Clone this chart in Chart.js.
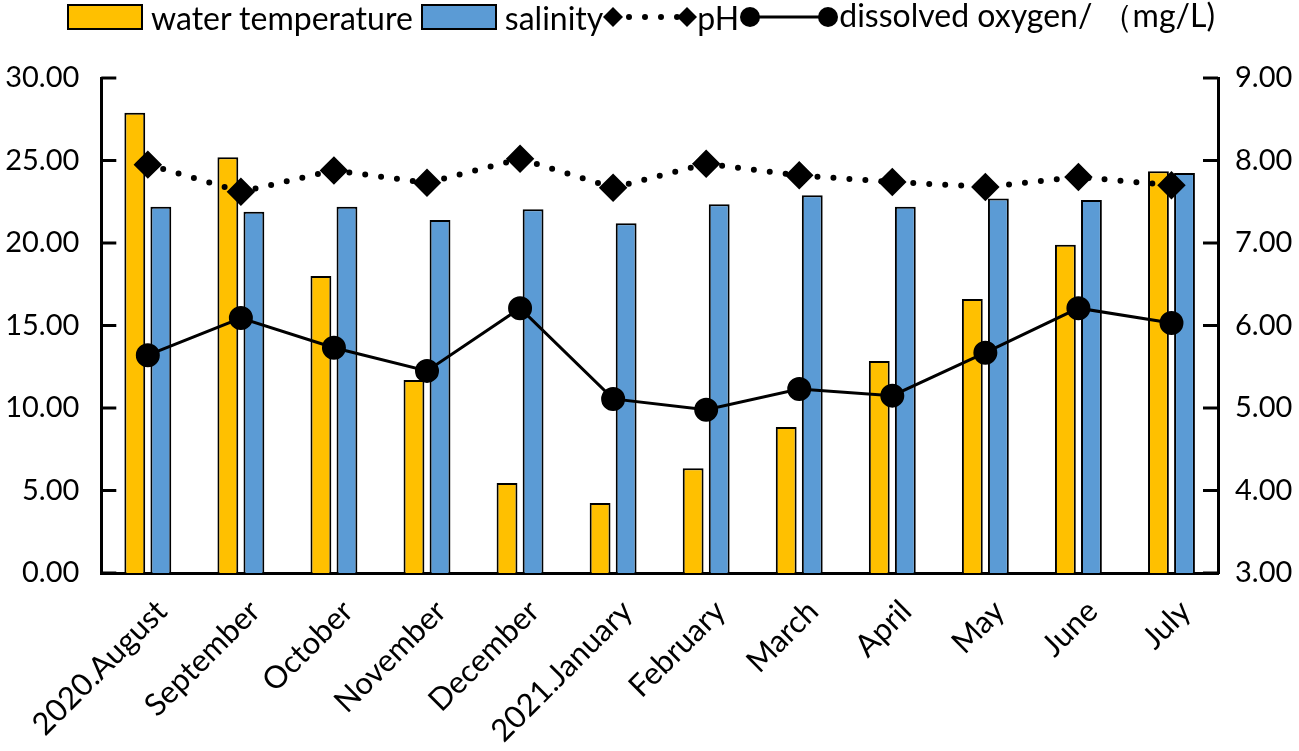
<!DOCTYPE html>
<html>
<head>
<meta charset="utf-8">
<script src="https://cdn.jsdelivr.net/npm/chart.js@4.4.0/dist/chart.umd.min.js"></script>
<style>
  html, body { margin: 0; padding: 0; background: #fff; }
  #wrap { position: relative; width: 1299px; height: 751px; }
  #legend {
    position: absolute; left: 67px; top: 0; height: 34px;
    display: flex; align-items: center;
    font-family: Lato, "Noto Sans", sans-serif; font-size: 32px; color: #000;
    white-space: nowrap;
  }
  #legend .box { display: inline-block; width: 72px; height: 22px; border: 2.5px solid #000; margin-right: 8px; }
  #legend .txt { margin-right: 8px; }
  #legend svg { display: block; }
</style>
</head>
<body>
<div id="wrap">
  <div id="legend">
    <span class="box" style="background:#FFC000"></span><span class="txt">water temperature</span>
    <span class="box" style="background:#5B9BD5"></span><span class="txt" style="margin-right:0">salinity</span>
    <svg width="94" height="30" viewBox="0 0 94 30">
      <line x1="10" y1="15" x2="84" y2="15" stroke="#000" stroke-width="6" stroke-linecap="round" stroke-dasharray="0 16"/>
      <polygon points="10,5 20,15 10,25 0,15" fill="#000"/>
      <polygon points="84,5 94,15 84,25 74,15" fill="#000"/>
    </svg><span class="txt" style="margin-right:0">pH</span>
    <svg width="100" height="30" viewBox="0 0 100 30">
      <line x1="11" y1="15" x2="89" y2="15" stroke="#000" stroke-width="3"/>
      <circle cx="11" cy="15" r="10" fill="#000"/>
      <circle cx="89" cy="15" r="10" fill="#000"/>
    </svg><span class="txt">dissolved oxygen/ （mg/L)</span>
  </div>
  <canvas id="chart" width="1299" height="751"></canvas>
</div>
<script>
// categories and series
const months = ["2020.August", "September", "October", "November", "December", "2021.January",
  "February", "March", "April", "May", "June", "July"];
const waterTemp = [27.9, 25.2, 18.0, 11.7, 5.45, 4.25, 6.35, 8.85, 12.85, 16.6, 19.9, 24.35];
const salinity = [22.2, 21.9, 22.2, 21.4, 22.05, 21.2, 22.35, 22.9, 22.2, 22.7, 22.6, 24.25];
const phValues = [7.95, 7.62, 7.88, 7.73, 8.02, 7.67, 7.96, 7.82, 7.74, 7.68, 7.80, 7.70];
const oxygen = [5.64, 6.09, 5.73, 5.45, 6.21, 5.11, 4.98, 5.23, 5.15, 5.67, 6.21, 6.03];

const fontFamily = "Lato, 'Noto Sans', sans-serif";

// 축 안쪽 눈금
const innerTicks = {
  id: "innerTicks",
  afterDatasetsDraw(chart) {
    const ctx = chart.ctx;
    const area = chart.chartArea;
    ctx.save();
    ctx.strokeStyle = "#000";
    ctx.lineWidth = 3;
    const yL = chart.scales.y;
    const yR = chart.scales.y1;
    yL.ticks.forEach((t) => {
      const py = yL.getPixelForValue(t.value);
      ctx.beginPath();
      ctx.moveTo(area.left, py);
      ctx.lineTo(area.left + 15, py);
      ctx.stroke();
    });
    yR.ticks.forEach((t) => {
      const py = yR.getPixelForValue(t.value);
      ctx.beginPath();
      ctx.moveTo(area.right, py);
      ctx.lineTo(area.right - 15, py);
      ctx.stroke();
    });
    ctx.restore();
  },
};

const chart = new Chart(document.getElementById("chart"), {
  data: {
    labels: months,
    datasets: [
      {
        type: "line",
        label: "pH",
        data: phValues,
        yAxisID: "y1",
        borderColor: "#000",
        borderWidth: 6,
        borderDash: [0, 16],
        borderCapStyle: "round",
        pointStyle: "rectRot",
        pointRadius: 10,
        pointBackgroundColor: "#000",
        pointBorderColor: "#000",
        tension: 0,
        order: 0,
      },
      {
        type: "line",
        label: "dissolved oxygen/ （mg/L)",
        data: oxygen,
        yAxisID: "y1",
        borderColor: "#000",
        borderWidth: 3,
        pointStyle: "circle",
        pointRadius: 10.5,
        pointBackgroundColor: "#000",
        pointBorderColor: "#000",
        tension: 0,
        order: 0,
      },
      {
        type: "bar",
        label: "water temperature",
        data: waterTemp,
        yAxisID: "y",
        backgroundColor: "#FFC000",
        borderColor: "#000",
        borderWidth: 2,
        categoryPercentage: 0.56,
        barPercentage: 0.8,
        order: 1,
      },
      {
        type: "bar",
        label: "salinity",
        data: salinity,
        yAxisID: "y",
        backgroundColor: "#5B9BD5",
        borderColor: "#000",
        borderWidth: 2,
        categoryPercentage: 0.56,
        barPercentage: 0.8,
        order: 1,
      },
    ],
  },
  options: {
    responsive: false,
    animation: { duration: 0 },
    layout: { padding: { top: 78, left: 0, right: 0, bottom: 0 } },
    plugins: {
      legend: { display: false },
      tooltip: { enabled: false },
    },
    scales: {
      x: {
        grid: { display: false, drawTicks: false },
        border: { display: true, color: "#000", width: 3 },
        ticks: {
          color: "#000",
          font: { family: fontFamily, size: 31 },
          minRotation: 45,
          maxRotation: 45,
          padding: 20,
          labelOffset: 14,
          autoSkip: false,
        },
        afterFit: (scale) => { scale.height = 178; },
      },
      y: {
        position: "left",
        min: 0,
        max: 30,
        grid: { display: false, drawTicks: false },
        border: { display: true, color: "#000", width: 3 },
        ticks: {
          stepSize: 5,
          color: "#000",
          font: { family: fontFamily, size: 29 },
          padding: 22,
          callback: (v) => v.toFixed(2),
        },
        afterFit: (scale) => { scale.width = 97; },
      },
      y1: {
        position: "right",
        min: 3,
        max: 9,
        grid: { display: false, drawTicks: false },
        border: { display: true, color: "#000", width: 3 },
        ticks: {
          stepSize: 1,
          color: "#000",
          font: { family: fontFamily, size: 29 },
          padding: 17,
          callback: (v) => v.toFixed(2),
        },
        afterFit: (scale) => { scale.width = 81; },
      },
    },
  },
  plugins: [innerTicks],
});
</script>
</body>
</html>
